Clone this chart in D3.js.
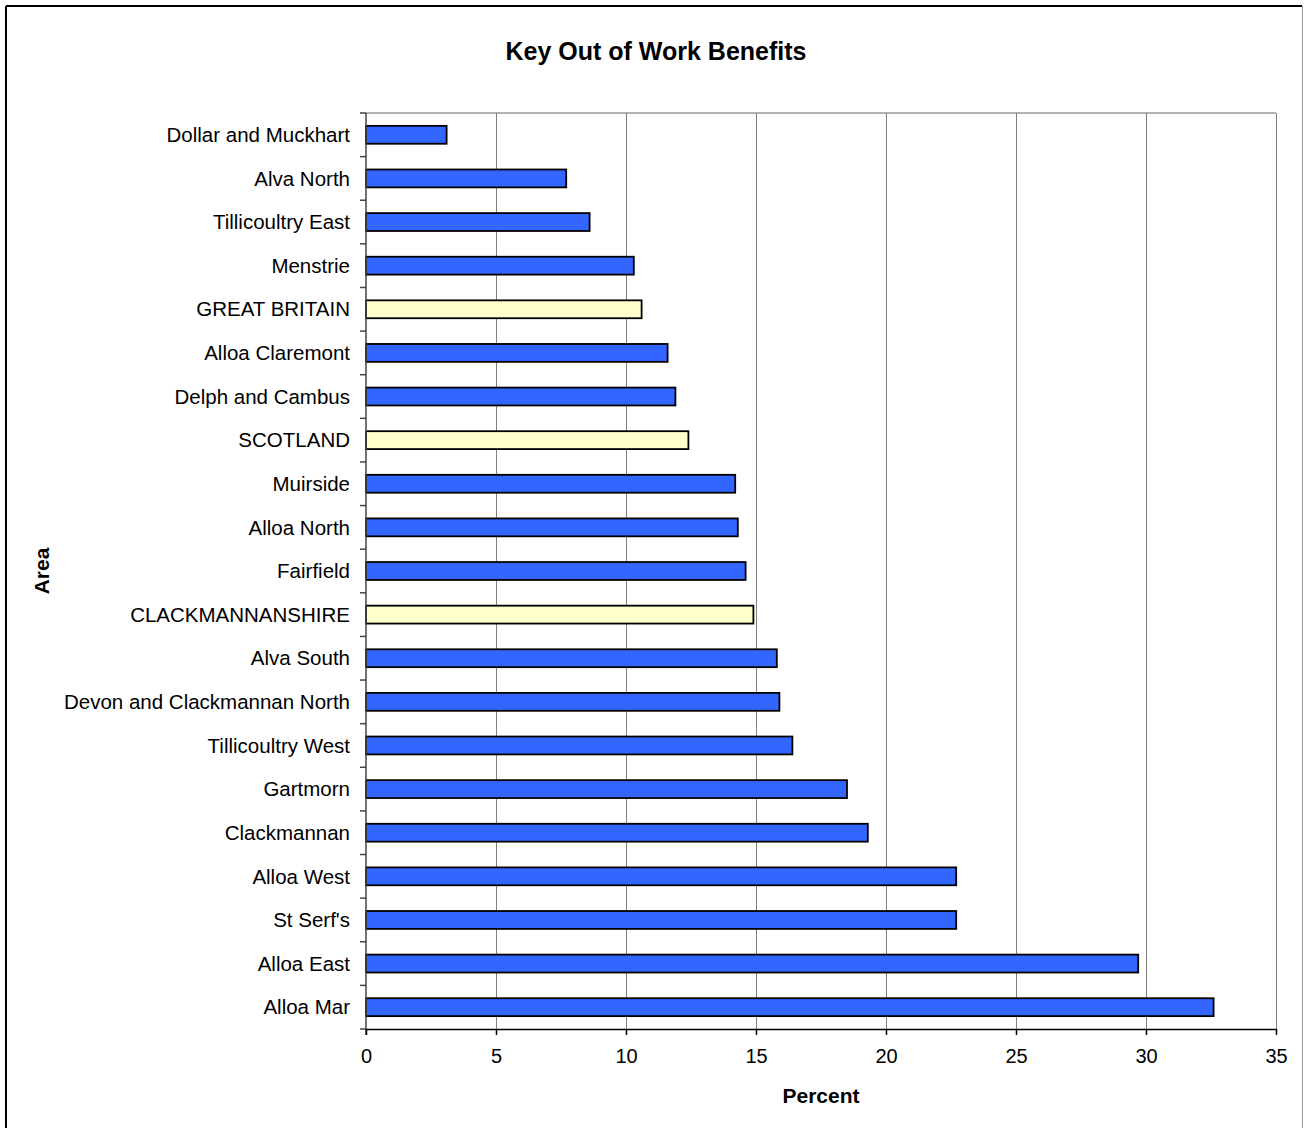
<!DOCTYPE html>
<html lang="en">
<head>
<meta charset="UTF-8">
<title>Key Out of Work Benefits</title>
<style>
  body { margin: 0; background: #fff; }
  text { font-family: "Liberation Sans", Arial, sans-serif; }
</style>
</head>
<body>
<script src="https://cdn.jsdelivr.net/npm/d3@7/dist/d3.min.js"></script>
<script>
// areas, top to bottom
var areas = ['Dollar and Muckhart', 'Alva North', 'Tillicoultry East', 'Menstrie',
    'GREAT BRITAIN', 'Alloa Claremont', 'Delph and Cambus', 'SCOTLAND', 'Muirside',
    'Alloa North', 'Fairfield', 'CLACKMANNANSHIRE', 'Alva South',
    'Devon and Clackmannan North', 'Tillicoultry West', 'Gartmorn', 'Clackmannan',
    'Alloa West', "St Serf's", 'Alloa East', 'Alloa Mar'];
var percents = [3.1, 7.7, 8.6, 10.3, 10.6, 11.6, 11.9, 12.4, 14.2, 14.3, 14.6, 14.9,
    15.8, 15.9, 16.4, 18.5, 19.3, 22.7, 22.7, 29.7, 32.6];
// comparison areas drawn in pale yellow
var benchmarks = ['GREAT BRITAIN', 'SCOTLAND', 'CLACKMANNANSHIRE'];
var xTicks = [0, 5, 10, 15, 20, 25, 30, 35];

var W = 1304, H = 1128;
var plotL = 366, plotR = 1276, plotT = 113, plotB = 1029;

var svg = d3.select('body').append('svg')
    .attr('width', W)
    .attr('height', H);

// outer frame
svg.append('line').attr('x1', 6).attr('y1', 6).attr('x2', W - 2).attr('y2', 6)
    .attr('stroke', '#000').attr('stroke-width', 2);
svg.append('line').attr('x1', 6).attr('y1', 6).attr('x2', 6).attr('y2', H)
    .attr('stroke', '#000').attr('stroke-width', 2);
svg.append('line').attr('x1', W - 1.5).attr('y1', 6).attr('x2', W - 1.5).attr('y2', H)
    .attr('stroke', '#999').attr('stroke-width', 1);

var x = d3.scaleLinear().domain([0, 35]).range([plotL, plotR]);
var y = d3.scaleBand().domain(areas).range([plotT, plotB]).paddingInner(0.59).paddingOuter(0.295);
var yb = d3.scaleBand().domain(areas).range([plotT, plotB]);

// plot frame top
svg.append('line').attr('x1', plotL).attr('y1', plotT).attr('x2', plotR).attr('y2', plotT)
    .attr('stroke', '#999').attr('stroke-width', 1.5);

// gridlines
svg.append('g').selectAll('line')
    .data(xTicks.slice(1))
    .enter().append('line')
    .attr('x1', function(d) { return x(d) + 0.5; })
    .attr('x2', function(d) { return x(d) + 0.5; })
    .attr('y1', plotT)
    .attr('y2', plotB)
    .attr('stroke', '#808080')
    .attr('stroke-width', 1);

// bars
svg.append('g').selectAll('rect')
    .data(areas)
    .enter().append('rect')
    .attr('x', x(0))
    .attr('y', function(d) { return y(d); })
    .attr('width', function(d, i) { return x(percents[i]) - x(0); })
    .attr('height', y.bandwidth())
    .attr('fill', function(d) { return benchmarks.indexOf(d) >= 0 ? '#FFFFCC' : '#3366FF'; })
    .attr('stroke', '#000')
    .attr('stroke-width', 1.8);

// y axis
var yAxis = svg.append('g')
    .attr('transform', 'translate(' + plotL + ',0)');
yAxis.append('line').attr('x1', 0).attr('x2', 0).attr('y1', plotT).attr('y2', plotB + 6)
    .attr('stroke', '#444').attr('stroke-width', 1.5);
yAxis.selectAll('.tk')
    .data(areas.concat(['end']))
    .enter().append('line')
    .attr('x1', -6).attr('x2', 0)
    .attr('y1', function(d, i) { return plotT + i * yb.step(); })
    .attr('y2', function(d, i) { return plotT + i * yb.step(); })
    .attr('stroke', '#444').attr('stroke-width', 1.5);
yAxis.selectAll('text')
    .data(areas)
    .enter().append('text')
    .attr('x', -16)
    .attr('y', function(d) { return yb(d) + yb.bandwidth() / 2; })
    .attr('dy', '0.35em')
    .attr('text-anchor', 'end')
    .attr('font-size', 20.5)
    .attr('fill', '#000')
    .text(function(d) { return d; });

// x axis
var xAxis = svg.append('g')
    .attr('transform', 'translate(0,' + plotB + ')')
    .call(d3.axisBottom(x).tickValues(xTicks).tickSize(6).tickSizeOuter(0).tickPadding(14));
xAxis.attr('font-size', 20).attr('font-family', '"Liberation Sans", Arial, sans-serif');
xAxis.select('.domain').attr('stroke', '#000').attr('stroke-width', 1.5);
xAxis.selectAll('.tick line').attr('stroke', '#000').attr('stroke-width', 1.5);
xAxis.selectAll('.tick text').attr('fill', '#000');

// titles
svg.append('text')
    .attr('x', 656).attr('y', 60)
    .attr('text-anchor', 'middle')
    .attr('font-size', 25).attr('font-weight', 'bold')
    .text('Key Out of Work Benefits');
svg.append('text')
    .attr('x', (plotL + plotR) / 2).attr('y', 1103)
    .attr('text-anchor', 'middle')
    .attr('font-size', 21).attr('font-weight', 'bold')
    .text('Percent');
svg.append('text')
    .attr('transform', 'translate(49,' + (plotT + plotB) / 2 + ') rotate(-90)')
    .attr('text-anchor', 'middle')
    .attr('font-size', 21).attr('font-weight', 'bold')
    .text('Area');
</script>
</body>
</html>
